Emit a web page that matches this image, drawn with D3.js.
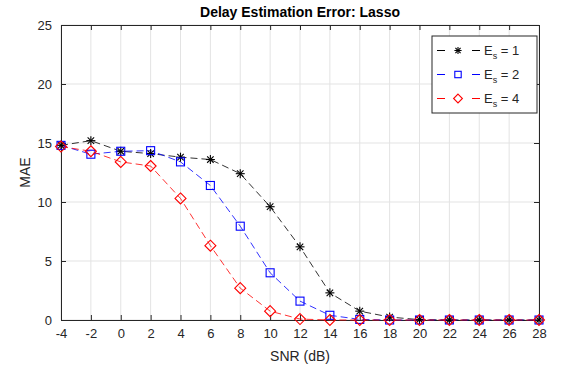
<!DOCTYPE html>
<html>
<head>
<meta charset="utf-8">
<script src="https://cdn.jsdelivr.net/npm/d3@7"></script>
<style>
  body { margin: 0; background: #fff; }
  svg { font-family: "Liberation Sans", Arial, sans-serif; }
</style>
</head>
<body>
<svg id="chart" width="561" height="375"></svg>
<script>
const snr = [-4, -2, 0, 2, 4, 6, 8, 10, 12, 14, 16, 18, 20, 22, 24, 26, 28];
const maeEs1 = [14.8, 15.2, 14.3, 14.1, 13.8, 13.6, 12.4, 9.6, 6.2, 2.3, 0.75, 0.25, 0.03, 0, 0, 0, 0];
const maeEs2 = [14.8, 14.05, 14.3, 14.35, 13.4, 11.4, 7.95, 4.0, 1.6, 0.4, 0.05, 0, 0, 0, 0, 0, 0];
const maeEs4 = [14.7, 14.3, 13.4, 13.05, 10.3, 6.3, 2.7, 0.75, 0.08, 0, 0, 0, 0, 0, 0, 0, 0];
const xTicks = d3.range(-4, 29, 2);
const yTicks = [0, 5, 10, 15, 20, 25];

const series = [
  { name: "1", values: maeEs1, color: "#000000", marker: "star" },
  { name: "2", values: maeEs2, color: "#0000ff", marker: "square" },
  { name: "4", values: maeEs4, color: "#ff0000", marker: "diamond" }
];

const svg = d3.select("#chart");
const margin = { left: 61, right: 22, top: 25, bottom: 55 };
const W = 561, H = 375;

const x = d3.scaleLinear().domain([-4, 28]).range([margin.left, W - margin.right]);
const y = d3.scaleLinear().domain([0, 25]).range([H - margin.bottom, margin.top]);

const g = svg.append("g");

// Grid
g.selectAll(".gx").data(xTicks).enter().append("line")
  .attr("x1", d => x(d)).attr("x2", d => x(d))
  .attr("y1", y(0)).attr("y2", y(25))
  .attr("stroke", "#e3e3e3").attr("stroke-width", 1);
g.selectAll(".gy").data(yTicks).enter().append("line")
  .attr("x1", x(-4)).attr("x2", x(28))
  .attr("y1", d => y(d)).attr("y2", d => y(d))
  .attr("stroke", "#e3e3e3").attr("stroke-width", 1);

// Axes (MATLAB style: inward ticks on all sides)
const axisColor = "#262626";
const xAxis = g.append("g").attr("transform", `translate(0,${y(0)})`)
  .call(d3.axisBottom(x).tickValues(xTicks).tickSize(-5).tickPadding(9).tickFormat(d => String(d)));
const xTop = g.append("g").attr("transform", `translate(0,${y(25)})`)
  .call(d3.axisTop(x).tickValues(xTicks).tickSize(-5).tickFormat(""));
const yAxis = g.append("g").attr("transform", `translate(${x(-4)},0)`)
  .call(d3.axisLeft(y).tickValues(yTicks).tickSize(-5).tickPadding(9));
const yRight = g.append("g").attr("transform", `translate(${x(28)},0)`)
  .call(d3.axisRight(y).tickValues(yTicks).tickSize(-5).tickFormat(""));

[xAxis, xTop, yAxis, yRight].forEach(a => {
  a.select(".domain").attr("stroke", axisColor).attr("stroke-width", 1);
  a.selectAll(".tick line").attr("stroke", axisColor);
  a.selectAll(".tick text").attr("fill", "#262626").style("font-size", "13px")
    .style("font-family", "'Liberation Sans', Arial, sans-serif");
});

// Lines
const line = d3.line().x((d, i) => x(snr[i])).y(d => y(d));

function drawMarker(sel, type, color, cx, cy, k = 1) {
  if (type === "star") {
    const r = 4.5 * k;
    const p = sel.append("g").attr("transform", `translate(${cx},${cy})`)
      .attr("stroke", color).attr("stroke-width", 1.1);
    p.append("line").attr("x1", -r).attr("x2", r).attr("y1", 0).attr("y2", 0);
    p.append("line").attr("x1", 0).attr("x2", 0).attr("y1", -r).attr("y2", r);
    p.append("line").attr("x1", -r * 0.72).attr("x2", r * 0.72).attr("y1", -r * 0.72).attr("y2", r * 0.72);
    p.append("line").attr("x1", -r * 0.72).attr("x2", r * 0.72).attr("y1", r * 0.72).attr("y2", -r * 0.72);
  } else if (type === "square") {
    const h = 4 * k;
    sel.append("rect").attr("x", cx - h).attr("y", cy - h).attr("width", 2 * h).attr("height", 2 * h)
      .attr("fill", "none").attr("stroke", color).attr("stroke-width", 1.1);
  } else {
    const r = 5.5 * k;
    sel.append("path")
      .attr("d", `M${cx},${cy - r}L${cx + r},${cy}L${cx},${cy + r}L${cx - r},${cy}Z`)
      .attr("fill", "none").attr("stroke", color).attr("stroke-width", 1.1);
  }
}

series.forEach(s => {
  g.append("path").datum(s.values)
    .attr("d", line)
    .attr("fill", "none")
    .attr("stroke", s.color)
    .attr("stroke-opacity", 0.8)
    .attr("stroke-width", 1)
    .attr("stroke-dasharray", "7,4");
});
series.forEach(s => {
  const mg = g.append("g");
  s.values.forEach((v, i) => drawMarker(mg, s.marker, s.color, x(snr[i]), y(v)));
});

// Legend
const lg = svg.append("g").attr("transform", "translate(432,36)");
lg.append("rect").attr("x", 0).attr("y", 0).attr("width", 105).attr("height", 77)
  .attr("fill", "#fff").attr("stroke", "#262626").attr("stroke-width", 1);
series.forEach((s, i) => {
  const cy = 14.5 + i * 24;
  lg.append("line").attr("x1", 5).attr("x2", 13).attr("y1", cy).attr("y2", cy)
    .attr("stroke", s.color).attr("stroke-width", 1);
  lg.append("line").attr("x1", 40).attr("x2", 48).attr("y1", cy).attr("y2", cy)
    .attr("stroke", s.color).attr("stroke-width", 1);
  drawMarker(lg, s.marker, s.color, 26, cy, 0.8);
  const t = lg.append("text").attr("x", 52).attr("y", cy + 4.5)
    .attr("fill", "#262626").style("font-size", "13px");
  t.append("tspan").text("E");
  t.append("tspan").attr("dy", 4).style("font-size", "9px").text("s");
  t.append("tspan").attr("dy", -4).text(" = " + s.name);
});

// Title and labels
svg.append("text").attr("x", (x(-4) + x(28)) / 2).attr("y", 17)
  .attr("text-anchor", "middle").style("font-size", "14px").style("font-weight", "bold")
  .attr("fill", "#000").text("Delay Estimation Error: Lasso");
svg.append("text").attr("x", (x(-4) + x(28)) / 2).attr("y", 361)
  .attr("text-anchor", "middle").style("font-size", "14px").attr("fill", "#262626")
  .text("SNR (dB)");
svg.append("text").attr("transform", `translate(30,${(y(0) + y(25)) / 2}) rotate(-90)`)
  .attr("text-anchor", "middle").style("font-size", "14px").attr("fill", "#262626")
  .text("MAE");
</script>
</body>
</html>
